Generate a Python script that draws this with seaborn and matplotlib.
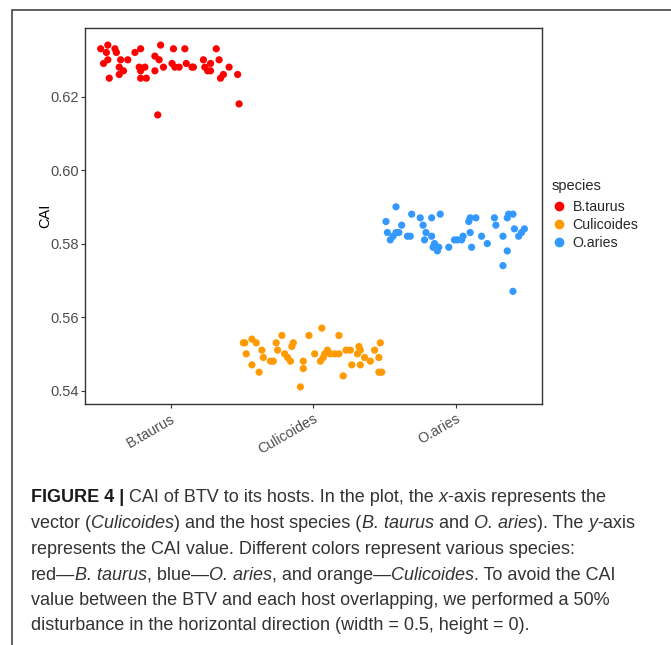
import numpy as np
import pandas as pd
import matplotlib
matplotlib.use("Agg")
import matplotlib.pyplot as plt
import seaborn as sns
from matplotlib.lines import Line2D

# ---------------- data ----------------
categories = ["B.taurus", "Culicoides", "O.aries"]
colors = ["#FF0000", "#FF9A00", "#3399FF"]

btaurus_offset = [-0.49, -0.44, -0.45, -0.39, -0.38, -0.44, -0.47, -0.43, -0.35, -0.30,
                  -0.36, -0.33, -0.36, -0.25, -0.21, -0.22, -0.18, -0.21, -0.21, -0.17,
                  -0.11, -0.08, -0.11, -0.05, -0.07, 0.02, 0.01, 0.03, 0.06, 0.10,
                  0.11, 0.15, 0.16, 0.23, 0.24, 0.28, 0.28, 0.26, 0.32, 0.34,
                  0.37, 0.35, 0.41, 0.47, 0.48, -0.09]
btaurus_cai = [0.633, 0.634, 0.632, 0.633, 0.632, 0.630, 0.629, 0.625, 0.630, 0.630,
               0.628, 0.627, 0.626, 0.632, 0.633, 0.628, 0.628, 0.627, 0.625, 0.625,
               0.631, 0.630, 0.627, 0.628, 0.634, 0.633, 0.629, 0.628, 0.628, 0.633,
               0.629, 0.628, 0.628, 0.630, 0.628, 0.629, 0.627, 0.627, 0.633, 0.630,
               0.626, 0.625, 0.628, 0.626, 0.618, 0.615]

culicoides_offset = [-0.49, -0.48, -0.47, -0.43, -0.43, -0.40, -0.38, -0.36, -0.35, -0.30,
                     -0.28, -0.26, -0.25, -0.22, -0.20, -0.18, -0.16, -0.15, -0.14, -0.09,
                     -0.07, -0.07, -0.03, 0.01, 0.06, 0.05, 0.07, 0.08, 0.10, 0.12,
                     0.15, 0.18, 0.18, 0.21, 0.23, 0.26, 0.27, 0.31, 0.32, 0.33,
                     0.33, 0.36, 0.40, 0.43, 0.46, 0.47, 0.46, 0.48]
culicoides_cai = [0.553, 0.553, 0.550, 0.547, 0.554, 0.553, 0.545, 0.551, 0.549, 0.548,
                  0.548, 0.553, 0.551, 0.555, 0.550, 0.549, 0.548, 0.552, 0.553, 0.541,
                  0.548, 0.546, 0.555, 0.550, 0.557, 0.548, 0.549, 0.550, 0.551, 0.550,
                  0.550, 0.550, 0.555, 0.544, 0.551, 0.551, 0.547, 0.550, 0.552, 0.551,
                  0.547, 0.549, 0.548, 0.551, 0.549, 0.553, 0.545, 0.545]

oaries_offset = [-0.42, -0.49, -0.48, -0.46, -0.44, -0.42, -0.40, -0.38, -0.34, -0.32,
                 -0.31, -0.25, -0.23, -0.21, -0.22, -0.17, -0.17, -0.11, -0.15, -0.16,
                 -0.13, -0.12, -0.05, -0.01, 0.01, 0.04, 0.05, 0.09, 0.10, 0.14,
                 0.10, 0.11, 0.18, 0.22, 0.27, 0.28, 0.33, 0.36, 0.37, 0.40,
                 0.36, 0.33, 0.40, 0.41, 0.44, 0.46, 0.48]
oaries_cai = [0.590, 0.586, 0.583, 0.581, 0.582, 0.583, 0.583, 0.585, 0.582, 0.582,
              0.588, 0.587, 0.585, 0.583, 0.581, 0.582, 0.587, 0.588, 0.580, 0.579,
              0.578, 0.579, 0.579, 0.581, 0.581, 0.581, 0.582, 0.586, 0.587, 0.587,
              0.583, 0.579, 0.582, 0.580, 0.587, 0.585, 0.582, 0.587, 0.588, 0.588,
              0.578, 0.574, 0.567, 0.584, 0.582, 0.583, 0.584]

y_ticks = [0.54, 0.56, 0.58, 0.60, 0.62]
y_label = "CAI"
legend_title = "species"

caption_lines = [
    [("FIGURE 4 |", "b"), (" CAI of BTV to its hosts. In the plot, the ", "n"), ("x", "i"),
     ("-axis represents the", "n")],
    [("vector (", "n"), ("Culicoides", "i"), (") and the host species (", "n"), ("B. taurus", "i"),
     (" and ", "n"), ("O. aries", "i"), ("). The ", "n"), ("y", "i"), ("-axis", "n")],
    [("represents the CAI value. Different colors represent various species:", "n")],
    [("red\u2014", "n"), ("B. taurus", "i"), (", blue\u2014", "n"), ("O. aries", "i"),
     (", and orange\u2014", "n"), ("Culicoides", "i"), (". To avoid the CAI", "n")],
    [("value between the BTV and each host overlapping, we performed a 50%", "n")],
    [("disturbance in the horizontal direction (width = 0.5, height = 0).", "n")],
]

# ---------------- build table ----------------
frames = []
for i, (name, off, cai) in enumerate([
        ("B.taurus", btaurus_offset, btaurus_cai),
        ("Culicoides", culicoides_offset, culicoides_cai),
        ("O.aries", oaries_offset, oaries_cai)]):
    frames.append(pd.DataFrame({"species": name,
                                "xpos": i + np.array(off),
                                "CAI": cai}))
df = pd.concat(frames, ignore_index=True)

# ---------------- style ----------------
sns.set_theme(style="white")
plt.rcParams["font.family"] = ["Liberation Sans", "DejaVu Sans"]
cap_font = "Liberation Sans"
cap_size = 13.0

W, H = 671, 645
fig = plt.figure(figsize=(W / 100, H / 100), dpi=100)
fig.patch.set_facecolor("white")

L, R, T, B = 85, 541.5, 28, 404
ax = fig.add_axes([L / W, 1 - B / H, (R - L) / W, (B - T) / H])

sns.scatterplot(data=df, x="xpos", y="CAI", hue="species", hue_order=categories,
                palette=colors, s=27, linewidth=0, edgecolor="none", ax=ax, legend=False)

ax.set_xlim(-0.6, 2.6)
ymin, ymax = df["CAI"].min(), df["CAI"].max()
rng = ymax - ymin
ax.set_ylim(ymin - 0.05 * rng, ymax + 0.05 * rng)

ax.set_xticks(range(len(categories)))
ax.set_xticklabels(categories, rotation=30, ha="right", rotation_mode="anchor")
ax.set_yticks(y_ticks)
ax.set_yticklabels([f"{v:.2f}" for v in y_ticks])
ax.tick_params(axis="both", which="major", direction="out", length=3, width=0.8,
               color="#333333", labelcolor="#4D4D4D", bottom=True, left=True)
ax.tick_params(axis="y", labelsize=10.5, pad=1.5)
ax.tick_params(axis="x", labelsize=10.3, pad=2.5)
for sp in ax.spines.values():
    sp.set_visible(True)
    sp.set_color("#333333")
    sp.set_linewidth(1.0)

ax.set_xlabel("")
ax.set_ylabel(y_label, fontsize=10.5, color="black")
ax.yaxis.set_label_coords(-0.072, 0.5)

handles = [Line2D([], [], marker="o", linestyle="", color=c, markersize=6) for c in colors]
leg = ax.legend(handles, categories, title=legend_title, loc="upper left",
                bbox_to_anchor=(552 / W, 1 - 179 / H), bbox_transform=fig.transFigure,
                frameon=False, borderpad=0, borderaxespad=0, handlelength=1.0,
                handletextpad=0.45, labelspacing=0.3, fontsize=10.2, title_fontsize=10.5,
                alignment="left")
leg._legend_box.sep = 5

# outer frame
fig.add_artist(Line2D([12 / W, 12 / W], [0, 1 - 9.5 / H], transform=fig.transFigure,
                      color="#555555", lw=1.3))
fig.add_artist(Line2D([12 / W, 1], [1 - 9.5 / H, 1 - 9.5 / H], transform=fig.transFigure,
                      color="#555555", lw=1.3))

# caption with mixed styles
renderer = fig.canvas.get_renderer()
styles = {
    "n": dict(fontfamily=cap_font, fontsize=cap_size, color="#333333"),
    "i": dict(fontfamily=cap_font, fontsize=cap_size, color="#333333", fontstyle="italic"),
    "b": dict(fontfamily=cap_font, fontsize=cap_size, color="#1a1a1a", fontweight="bold"),
}


def text_width(s, kw):
    t1 = fig.text(0, 0, "|" + s + "|", **kw)
    w1 = t1.get_window_extent(renderer).width
    t1.remove()
    t2 = fig.text(0, 0, "||", **kw)
    w2 = t2.get_window_extent(renderer).width
    t2.remove()
    return w1 - w2


line_y = [497, 523, 549, 575, 600.5, 626]
for pieces, yc in zip(caption_lines, line_y):
    x = 31
    for s, st in pieces:
        kw = styles[st]
        fig.text(x / W, 1 - yc / H, s, ha="left", va="center", **kw)
        x += text_width(s, kw)

fig.savefig("out.png", dpi=100)
